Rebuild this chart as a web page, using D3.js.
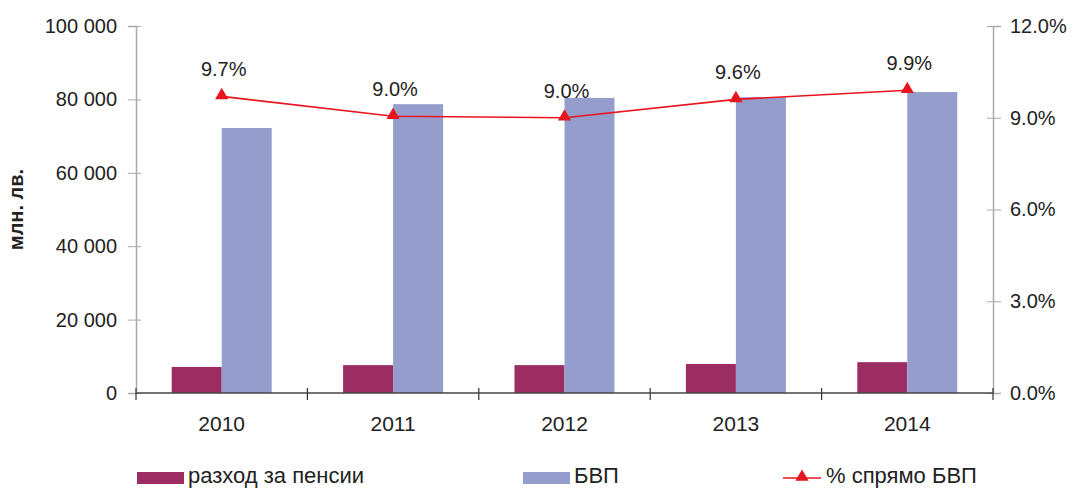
<!DOCTYPE html>
<html>
<head>
<meta charset="utf-8">
<script src="https://cdn.jsdelivr.net/npm/d3@7"></script>
<style>
  body { margin: 0; background: #fff; }
  svg { font-family: "Liberation Sans", Arial, sans-serif; }
</style>
</head>
<body>
<svg id="chart" width="1074" height="489"></svg>
<script>
// data
const years = ["2010", "2011", "2012", "2013", "2014"];
const pensions = [7100, 7600, 7600, 7900, 8400];
const gdp = [72200, 78700, 80400, 80600, 82000];
const share = [9.7, 9.05, 9.0, 9.6, 9.9];
const shareLabels = ["9.7%", "9.0%", "9.0%", "9.6%", "9.9%"];
const leftTicks = [0, 20000, 40000, 60000, 80000, 100000];
const rightTicks = [0, 3, 6, 9, 12];
const seriesNames = ["разход за пенсии", "БВП", "% спрямо БВП"];

var margin = { top: 26, left: 136, right: 81, bottom: 96 },
    width = 1074 - margin.left - margin.right,
    height = 489 - margin.top - margin.bottom,
    colors = { pens: "#9b2d62", gdp: "#959dcd", line: "#e8141e" },
    fontSize = '20px'

var svg = d3.select('#chart')
var chartArea = svg.append('g')
    .attr('transform', 'translate(' + margin.left + ',' + margin.top + ')')

var x = d3.scaleBand().domain(years).range([0, width])
var inner = d3.scaleBand().domain(["pens", "gdp"]).range([x.bandwidth() / 2 - 50, x.bandwidth() / 2 + 50])
var y = d3.scaleLinear().domain([0, 100000]).range([height, 0])
var y2 = d3.scaleLinear().domain([0, 12]).range([height, 0])

// left axis
var yAxis = chartArea.append('g')
    .call(d3.axisLeft(y).tickValues(leftTicks).tickSize(8).tickPadding(11)
        .tickFormat(d => d3.format(",")(d).replace(/,/g, " ")))
yAxis.select('.domain').attr('stroke', '#aaa').attr('stroke-width', 1.5)
yAxis.selectAll('.tick line').attr('stroke', '#aaa').attr('x2', -8).attr('x1', 5)
yAxis.selectAll('.tick text').attr('font-size', fontSize).attr('fill', '#222')
    .attr('font-family', '"Liberation Sans", Arial, sans-serif')

// right axis
var y2Axis = chartArea.append('g')
    .attr('transform', 'translate(' + width + ',0)')
    .call(d3.axisRight(y2).tickValues(rightTicks).tickSize(8).tickPadding(9)
        .tickFormat(d => d.toFixed(1) + "%"))
y2Axis.select('.domain').attr('stroke', '#aaa').attr('stroke-width', 1.5)
y2Axis.selectAll('.tick line').attr('stroke', '#aaa').attr('x1', -6).attr('x2', 8)
y2Axis.selectAll('.tick text').attr('font-size', fontSize).attr('fill', '#222')
    .attr('font-family', '"Liberation Sans", Arial, sans-serif')

// y label
chartArea.append('text')
    .attr('transform', 'rotate(-90)')
    .attr('x', -height / 2 + 0)
    .attr('y', -113)
    .attr('text-anchor', 'middle')
    .attr('font-size', '20px')
    .attr('font-weight', 'bold')
    .attr('fill', '#222')
    .text('млн. лв.')

// bars
var groups = chartArea.selectAll('.grp')
    .data(years)
    .enter().append('g')
    .attr('transform', d => 'translate(' + x(d) + ',0)')

groups.append('rect')
    .attr('x', inner('pens'))
    .attr('width', inner.bandwidth())
    .attr('y', (d, i) => y(pensions[i]))
    .attr('height', (d, i) => height - y(pensions[i]))
    .attr('fill', colors.pens)

groups.append('rect')
    .attr('x', inner('gdp'))
    .attr('width', inner.bandwidth())
    .attr('y', (d, i) => y(gdp[i]))
    .attr('height', (d, i) => height - y(gdp[i]))
    .attr('fill', colors.gdp)

// bottom axis
var xAxis = chartArea.append('g')
    .attr('transform', 'translate(0,' + height + ')')
chartArea.append('line')
    .attr('x1', 0).attr('x2', width).attr('y1', height).attr('y2', height)
    .attr('stroke', '#444').attr('stroke-width', 1.5)
var bounds = years.map(d => x(d)).concat([width])
xAxis.selectAll('.xt')
    .data(bounds)
    .enter().append('line')
    .attr('x1', d => d).attr('x2', d => d)
    .attr('y1', -5).attr('y2', 7)
    .attr('stroke', '#333').attr('stroke-width', 1.2)
xAxis.selectAll('.xl')
    .data(years)
    .enter().append('text')
    .attr('x', d => x(d) + x.bandwidth() / 2)
    .attr('y', 38)
    .attr('text-anchor', 'middle')
    .attr('font-size', '21px')
    .attr('fill', '#222')
    .text(d => d)

// line
var cx = (d, i) => x(years[i]) + x.bandwidth() / 2
var line = d3.line().x(cx).y(d => y2(d))
chartArea.append('path')
    .datum(share)
    .attr('d', line)
    .attr('fill', 'none')
    .attr('stroke', colors.line)
    .attr('stroke-width', 1.6)

var tri = d3.symbol().type(d3.symbolTriangle).size(75)
chartArea.selectAll('.mk')
    .data(share)
    .enter().append('path')
    .attr('d', tri)
    .attr('transform', (d, i) => 'translate(' + cx(d, i) + ',' + (y2(d) - 1) + ')')
    .attr('fill', colors.line)

chartArea.selectAll('.lbl')
    .data(share)
    .enter().append('text')
    .attr('x', (d, i) => cx(d, i) + 2)
    .attr('y', d => y2(d) - 20)
    .attr('text-anchor', 'middle')
    .attr('font-size', fontSize)
    .attr('fill', '#222')
    .text((d, i) => shareLabels[i])

// legend
var legend = svg.append('g').attr('transform', 'translate(0,476)')
var l1 = legend.append('g').attr('transform', 'translate(137,0)')
l1.append('rect').attr('x', 0).attr('y', -4).attr('width', 47).attr('height', 12).attr('fill', colors.pens)
l1.append('text').attr('x', 51).attr('y', 7).attr('font-size', '22px').attr('fill', '#222').text(seriesNames[0])

var l2 = legend.append('g').attr('transform', 'translate(523,0)')
l2.append('rect').attr('x', 0).attr('y', -4).attr('width', 47).attr('height', 12).attr('fill', colors.gdp)
l2.append('text').attr('x', 51).attr('y', 7).attr('font-size', '22px').attr('fill', '#222').text(seriesNames[1])

var l3 = legend.append('g').attr('transform', 'translate(783,0)')
l3.append('line').attr('x1', 0).attr('x2', 38).attr('y1', 2).attr('y2', 2)
    .attr('stroke', colors.line).attr('stroke-width', 1.5)
l3.append('path').attr('d', tri).attr('transform', 'translate(19,1)').attr('fill', colors.line)
l3.append('text').attr('x', 43).attr('y', 7).attr('font-size', '22px').attr('fill', '#222').text(seriesNames[2])
</script>
</body>
</html>
